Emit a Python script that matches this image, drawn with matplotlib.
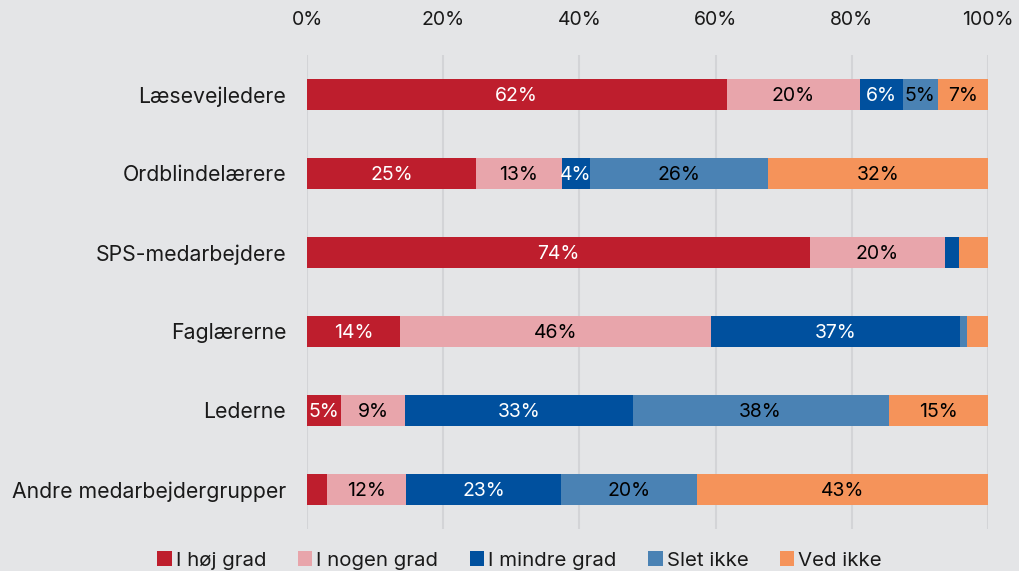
import matplotlib.pyplot as plt
from matplotlib.patches import Patch

# data (share of respondents, %)
categories = ['Læsevejledere', 'Ordblindelærere', 'SPS-medarbejdere',
              'Faglærerne', 'Lederne', 'Andre medarbejdergrupper']
series_names = ['I høj grad', 'I nogen grad', 'I mindre grad', 'Slet ikke', 'Ved ikke']

hoej_grad = [61.6, 24.8, 73.8, 13.6, 5.0, 3.0]
nogen_grad = [19.6, 12.6, 19.9, 45.7, 9.4, 11.6]
mindre_grad = [6.3, 4.1, 2.0, 36.6, 33.4, 22.7]
slet_ikke = [5.1, 26.2, 0.1, 1.0, 37.6, 19.9]
ved_ikke = [7.4, 32.3, 4.2, 3.1, 14.6, 42.8]

# segments without a label in the original (row, series)
unlabelled = [(2, 2), (2, 3), (2, 4), (3, 3), (3, 4), (5, 0)]

series = [hoej_grad, nogen_grad, mindre_grad, slet_ikke, ved_ikke]
colors = ['#BE1E2D', '#E8A5AB', '#00509E', '#4A82B4', '#F5935A']
text_colors = ['white', 'black', 'white', 'black', 'black']
bg = '#E4E5E7'

plt.rcParams['font.family'] = ['Inter', 'DejaVu Sans']

fig = plt.figure(figsize=(10.19, 5.71), dpi=100, facecolor=bg)
ax = fig.add_axes([0.3013, 0.0736, 0.6683, 0.8301], facecolor=bg)

y = list(range(len(categories)))
left = [0.0] * len(categories)
for s, vals in enumerate(series):
    ax.barh(y, vals, left=left, height=0.39, color=colors[s], zorder=2)
    for i, v in enumerate(vals):
        if (i, s) in unlabelled:
            continue
        ax.text(left[i] + v / 2, i, f'{round(v)}%', ha='center',
                va='center_baseline', color=text_colors[s], fontsize=14,
                zorder=3)
    left = [l + v for l, v in zip(left, vals)]

ax.set_xlim(0, 100)
ax.set_ylim(len(categories) - 0.5, -0.5)
ax.set_yticks(y)
ax.set_yticklabels(categories, fontsize=15.3, color='#1a1a1a')
ax.set_xticks([0, 20, 40, 60, 80, 100])
ax.set_xticklabels(['0%', '20%', '40%', '60%', '80%', '100%'], fontsize=14,
                   color='#1a1a1a')
ax.xaxis.tick_top()
ax.tick_params(axis='x', length=0, pad=19)
ax.tick_params(axis='y', length=0, pad=15)
ax.grid(axis='x', color='#D3D4D7', linewidth=1.5, zorder=0)
ax.set_axisbelow(True)
for sp in ax.spines.values():
    sp.set_visible(False)

handles = [Patch(facecolor=c, label=n) for c, n in zip(colors, series_names)]
fig.legend(handles=handles, loc='lower center', bbox_to_anchor=(0.51, -0.03),
           ncol=5, frameon=False, fontsize=14.7, handlelength=0.7,
           handleheight=0.7, handletextpad=0.2, columnspacing=1.55,
           labelcolor='#1a1a1a')

fig.savefig('out.png', dpi=100, facecolor=bg)
